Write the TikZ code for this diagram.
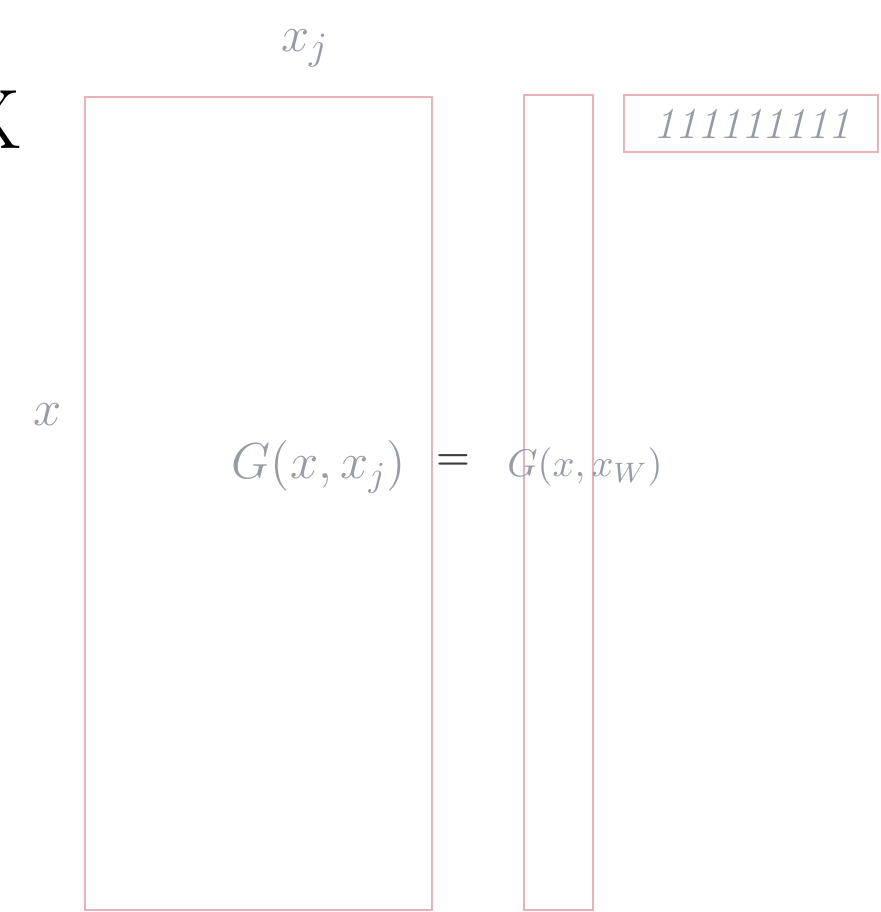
\documentclass[tikz,border=0pt]{standalone}
\usepackage{amsmath}
\definecolor{framecolor}{RGB}{232, 178, 186}
\definecolor{labelcolor}{RGB}{150, 155, 165}
\definecolor{signcolor}{RGB}{60, 60, 60}
\begin{document}
\begin{tikzpicture}[scale=1.0]
    \useasboundingbox (0,0) rectangle (8.81,9.12);

    % ==========================================
    % --- Kernel matrix ---
    % ==========================================
    % Panel letter (cut at the left edge, as in the source figure)
    \node[font=\fontsize{24}{26}\selectfont] (panel) at (-0.08, 7.92) {X};

    % Full matrix frame
    \draw[framecolor, thick] (0.85, 0.02) rectangle (4.32, 8.15);

    % Axis labels
    \node[labelcolor, font=\fontsize{15}{17}\selectfont] (colvar) at (3.05, 8.64) {$x_j$};
    \node[labelcolor, font=\fontsize{15}{17}\selectfont] (rowvar) at (0.48, 4.97) {$x$};

    % Matrix entry
    \node[labelcolor, font=\fontsize{14}{16}\selectfont] (fullG) at (3.19, 4.45) {$G(x, x_j)$};

    % ==========================================
    % --- Reduced column ---
    % ==========================================
    \node[signcolor, font=\fontsize{11}{13}\selectfont\bfseries] (equal) at (4.53, 4.50) {=};

    \draw[framecolor, thick] (5.24, 0.02) rectangle (5.93, 8.17);
    \node[labelcolor, font=\fontsize{11}{13}\selectfont] (colG) at (5.85, 4.45) {$G(x, x_W)$};

    % Row of ones
    \draw[framecolor, thick] (6.24, 7.60) rectangle (8.78, 8.17);
    \node[labelcolor, font=\fontsize{12.5}{14}\selectfont\itshape] (ones) at (7.52, 7.88) {111111111};

\end{tikzpicture}
\end{document}
